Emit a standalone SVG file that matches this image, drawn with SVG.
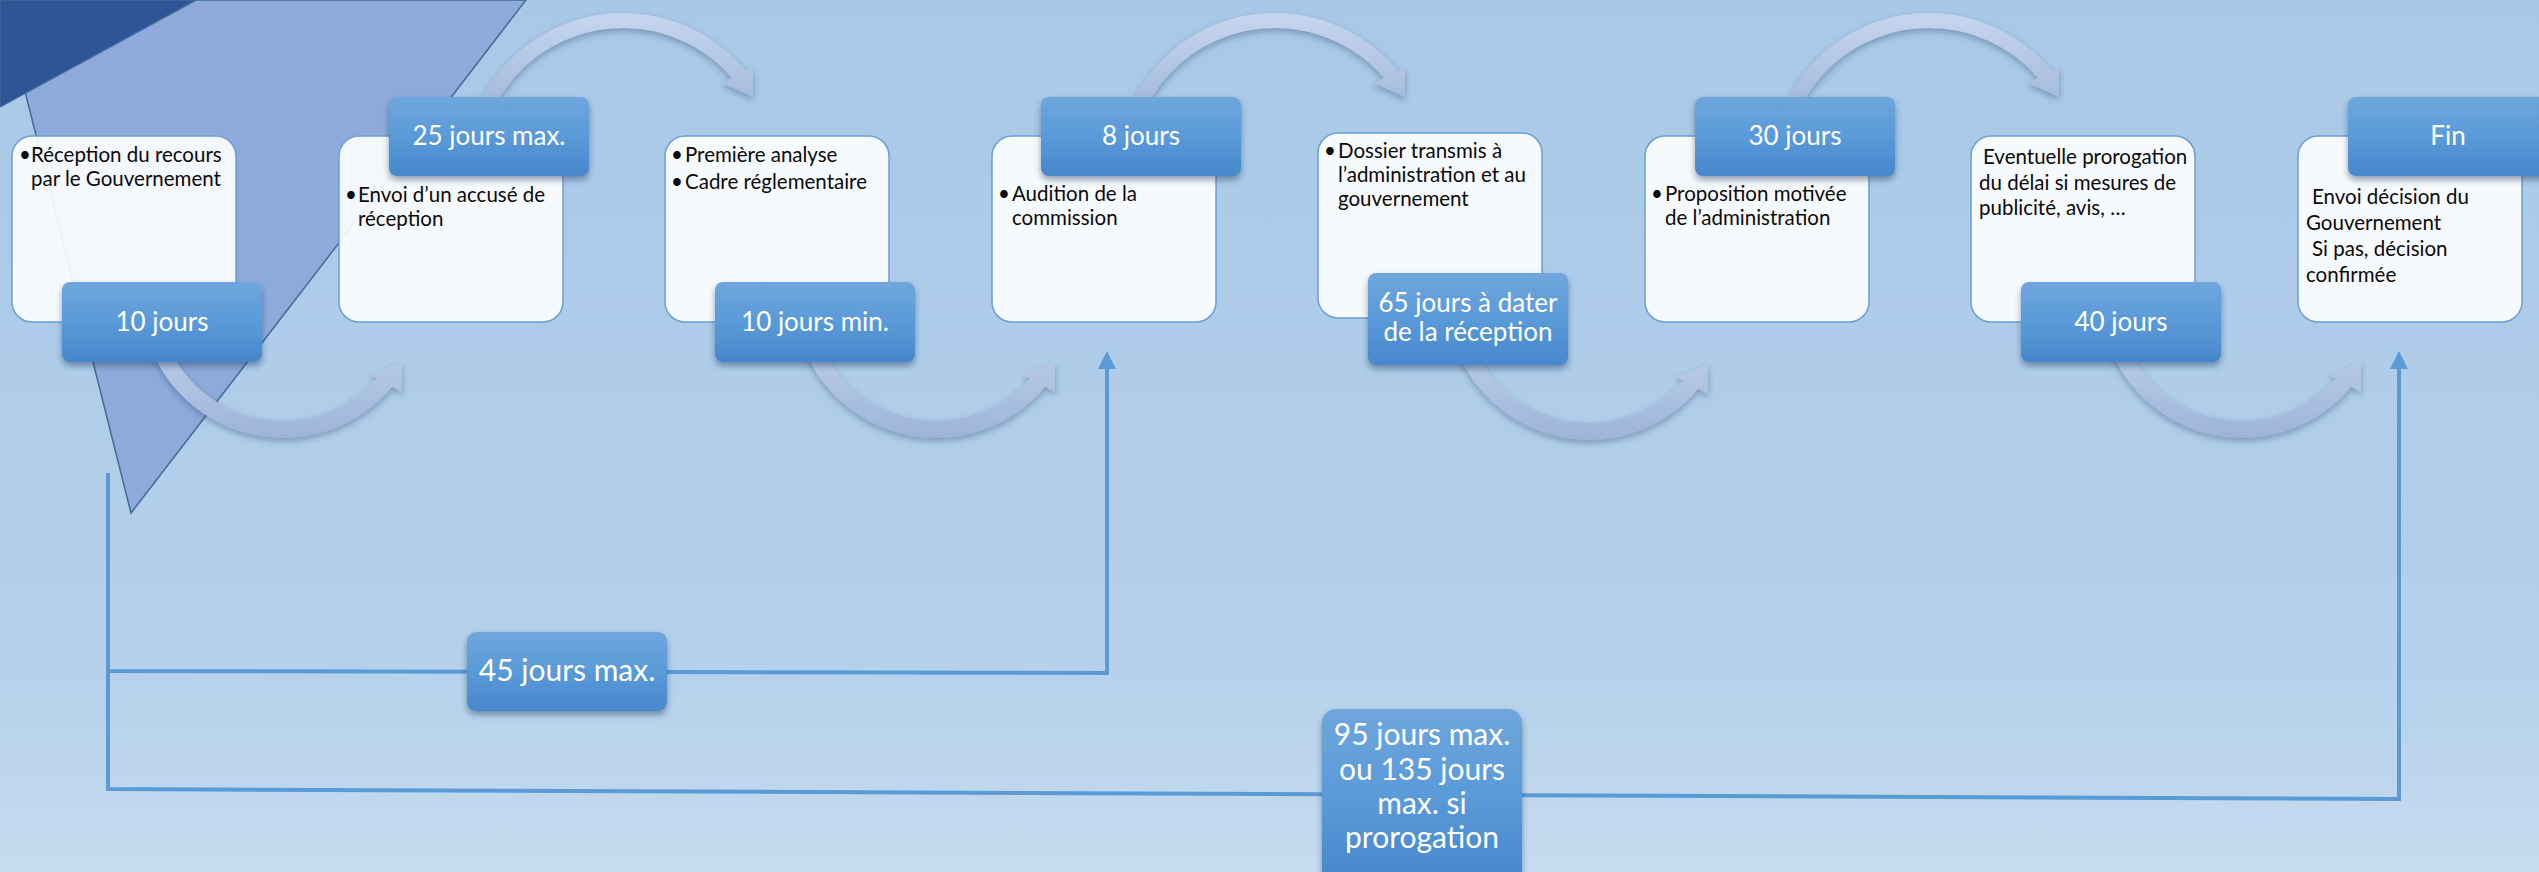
<svg xmlns="http://www.w3.org/2000/svg" width="2539" height="872" viewBox="0 0 2539 872">
<defs>
  <linearGradient id="bg" x1="0" y1="0" x2="0" y2="1">
    <stop offset="0" stop-color="#a8c8e7"/>
    <stop offset="0.75" stop-color="#b4d0eb"/>
    <stop offset="1" stop-color="#c6dbef"/>
  </linearGradient>
  <linearGradient id="lbl" x1="0" y1="0" x2="0" y2="1">
    <stop offset="0" stop-color="#6fa6dc"/>
    <stop offset="0.5" stop-color="#5a9ad9"/>
    <stop offset="1" stop-color="#4787cb"/>
  </linearGradient>
  <linearGradient id="arcg" x1="0" y1="0" x2="0" y2="1">
    <stop offset="0" stop-color="#c6d6ee"/>
    <stop offset="1" stop-color="#9db4d8"/>
  </linearGradient>
  <filter id="sh" x="-10%" y="-10%" width="120%" height="140%">
    <feDropShadow dx="0" dy="4" stdDeviation="3" flood-color="#1c3557" flood-opacity="0.45"/>
  </filter>
  <filter id="ash" x="-10%" y="-10%" width="120%" height="130%">
    <feDropShadow dx="0" dy="3" stdDeviation="3" flood-color="#1c3557" flood-opacity="0.35"/>
  </filter>
  <marker id="ah" viewBox="0 0 18 18" refX="14" refY="9" markerWidth="18" markerHeight="18" markerUnits="userSpaceOnUse" orient="auto">
    <path d="M0,0 L18,9 L0,18 Z" fill="#5b9bd5"/>
  </marker>
  <path id="arcB" d="M-139.8,24.7 A142,142 0 0 0 109.2,90.8 L119,96 L119,66 L87,79 L93.8,82.6 A125,125 0 0 1 -123.1,21.7 Z"/>
  <path id="arcT" d="M-149.4,-54.4 A159,159 0 0 1 122.6,-101.2 L130,-105 L130,-75 L99,-89 L109,-94.1 A144,144 0 0 0 -135.3,-49.3 Z"/>
  <style>
    .box { fill:#ffffff; fill-opacity:0.9; stroke:#6a9fd8; stroke-width:1.5; }
    .lab { fill:url(#lbl); filter:url(#sh); }
    .arc { fill:url(#arcg); filter:url(#ash); }
    .line { fill:none; stroke:#5b9bd5; stroke-width:4; stroke-linejoin:miter; }
    .body { font-family:Lato, "Liberation Sans", sans-serif; font-size:20.5px; fill:#0a0a0a; }
    .lt { font-family:Lato, "Liberation Sans", sans-serif; font-size:26px; fill:#ffffff; text-anchor:middle; }
    .big { font-size:30px; }
  </style>
</defs>

<rect x="0" y="0" width="2539" height="872" fill="url(#bg)"/>

<g id="decor">
  <polygon points="2,0 526,0 131,513" fill="#8eaadb" stroke="#3e6a98" stroke-width="1.5"/>
  <polygon points="0,0 196,0 0,107" fill="#2f5597" stroke="#3e6a98" stroke-width="1.5"/>
</g>

<g id="connectors">
  <use href="#arcB" class="arc" transform="translate(283,296)"/>
  <use href="#arcB" class="arc" transform="translate(936,296)"/>
  <use href="#arcB" class="arc" transform="translate(1589,298)"/>
  <use href="#arcB" class="arc" transform="translate(2242,296)"/>
  <use href="#arcT" class="arc" transform="translate(623,172)"/>
  <use href="#arcT" class="arc" transform="translate(1275,172)"/>
  <use href="#arcT" class="arc" transform="translate(1929,172)"/>
  <path class="line" d="M108,473 L108,671 L1107,673 L1107,355" marker-end="url(#ah)"/>
  <path class="line" d="M108,671 L108,789 L2399,799 L2399,355" marker-end="url(#ah)"/>
</g>

<g id="step1">
  <rect class="box" x="12" y="136" width="224" height="186" rx="20"/>
  <text class="body" x="19" y="162">•</text>
  <text class="body" x="31" y="162">Réception du recours</text>
  <text class="body" x="31" y="186">par le Gouvernement</text>
  <rect class="lab" x="62" y="282" width="200" height="80" rx="8"/>
  <text class="lt" x="162" y="331">10 jours</text>
</g>

<g id="step2">
  <rect class="box" x="339" y="136" width="224" height="186" rx="20"/>
  <text class="body" x="345" y="202">•</text>
  <text class="body" x="358" y="202">Envoi d’un accusé de</text>
  <text class="body" x="358" y="226">réception</text>
  <rect class="lab" x="389" y="97" width="200" height="79" rx="8"/>
  <text class="lt" x="489" y="145">25 jours max.</text>
</g>

<g id="step3">
  <rect class="box" x="665" y="136" width="224" height="186" rx="20"/>
  <text class="body" x="671" y="162">•</text>
  <text class="body" x="685" y="162">Première analyse</text>
  <text class="body" x="671" y="189">•</text>
  <text class="body" x="685" y="189">Cadre réglementaire</text>
  <rect class="lab" x="715" y="282" width="200" height="80" rx="8"/>
  <text class="lt" x="815" y="331">10 jours min.</text>
</g>

<g id="step4">
  <rect class="box" x="992" y="136" width="224" height="186" rx="20"/>
  <text class="body" x="998" y="201">•</text>
  <text class="body" x="1012" y="201">Audition de la</text>
  <text class="body" x="1012" y="225">commission</text>
  <rect class="lab" x="1041" y="97" width="200" height="79" rx="8"/>
  <text class="lt" x="1141" y="145">8 jours</text>
</g>

<g id="step5">
  <rect class="box" x="1318" y="133" width="224" height="185" rx="20"/>
  <text class="body" x="1324" y="158">•</text>
  <text class="body" x="1338" y="158">Dossier transmis à</text>
  <text class="body" x="1338" y="182">l’administration et au</text>
  <text class="body" x="1338" y="206">gouvernement</text>
  <rect class="lab" x="1368" y="273" width="200" height="92" rx="8"/>
  <text class="lt" x="1468" y="312">65 jours à dater</text>
  <text class="lt" x="1468" y="341">de la réception</text>
</g>

<g id="step6">
  <rect class="box" x="1645" y="136" width="224" height="186" rx="20"/>
  <text class="body" x="1651" y="201">•</text>
  <text class="body" x="1665" y="201">Proposition motivée</text>
  <text class="body" x="1665" y="225">de l’administration</text>
  <rect class="lab" x="1695" y="97" width="200" height="79" rx="8"/>
  <text class="lt" x="1795" y="145">30 jours</text>
</g>

<g id="step7">
  <rect class="box" x="1971" y="136" width="224" height="186" rx="20"/>
  <text class="body" x="1983" y="164">Eventuelle prorogation</text>
  <text class="body" x="1979" y="190">du délai si mesures de</text>
  <text class="body" x="1979" y="215">publicité, avis, …</text>
  <rect class="lab" x="2021" y="282" width="200" height="80" rx="8"/>
  <text class="lt" x="2121" y="331">40 jours</text>
</g>

<g id="step8">
  <rect class="box" x="2298" y="136" width="224" height="186" rx="20"/>
  <text class="body" x="2312" y="204">Envoi décision du</text>
  <text class="body" x="2306" y="230">Gouvernement</text>
  <text class="body" x="2312" y="256">Si pas, décision</text>
  <text class="body" x="2306" y="282">confirmée</text>
  <rect class="lab" x="2348" y="97" width="200" height="79" rx="8"/>
  <text class="lt" x="2448" y="145">Fin</text>
</g>

<g id="span45">
  <rect class="lab" x="467" y="632" width="200" height="79" rx="9"/>
  <text class="lt big" x="567" y="681">45 jours max.</text>
</g>

<g id="span95">
  <rect class="lab" x="1322" y="709" width="200" height="174" rx="14"/>
  <text class="lt big" x="1422" y="745">95 jours max.</text>
  <text class="lt big" x="1422" y="780">ou 135 jours</text>
  <text class="lt big" x="1422" y="814">max. si</text>
  <text class="lt big" x="1422" y="848">prorogation</text>
</g>
</svg>
